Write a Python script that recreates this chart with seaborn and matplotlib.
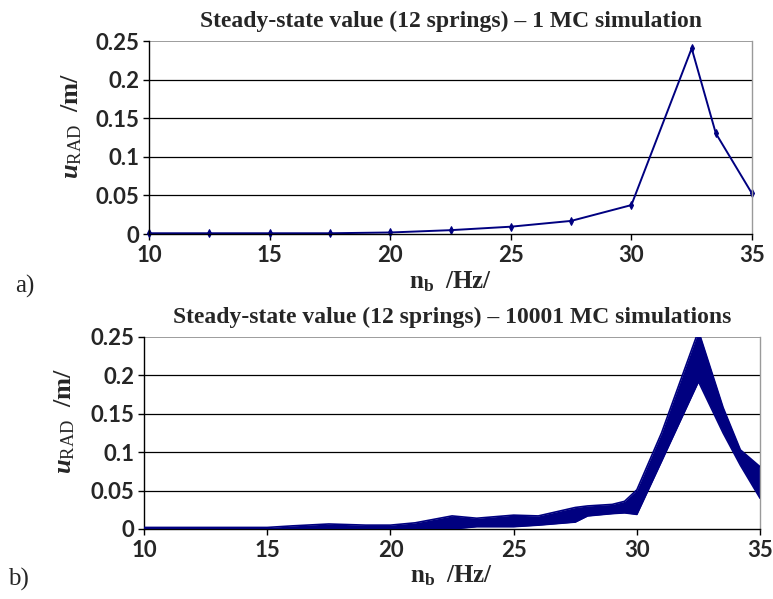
import numpy as np
import pandas as pd
import matplotlib
matplotlib.use("Agg")
import matplotlib.pyplot as plt
import seaborn as sns

# a) single Monte Carlo run
freq_single = [10, 12.5, 15, 17.5, 20, 22.5, 25, 27.5, 30, 32.5, 33.5, 35]
u_single = [0.001, 0.001, 0.001, 0.001, 0.002, 0.005, 0.0095, 0.017, 0.0375, 0.2405, 0.1305, 0.0525]

# b) envelope of 10001 Monte Carlo runs
freq_band = [10, 12.5, 15, 16, 17.5, 19, 20, 21, 22.5, 23.5, 25, 26, 27.5, 28,
             29, 29.5, 30, 31, 32.5, 33.5, 34.2, 35]
u_upper = [0.002, 0.002, 0.002, 0.004, 0.0065, 0.005, 0.005, 0.008, 0.017, 0.014, 0.018,
           0.017, 0.028, 0.030, 0.032, 0.036, 0.051, 0.125, 0.258, 0.158, 0.103, 0.081]
u_lower = [0.0, 0.0, 0.0, 0.0, 0.0, 0.0, 0.0, 0.0, 0.0, 0.003, 0.003,
           0.005, 0.009, 0.017, 0.020, 0.021, 0.019, 0.088, 0.192, 0.125, 0.083, 0.040]

x_ticks = [10, 15, 20, 25, 30, 35]
y_ticks = [0, 0.05, 0.1, 0.15, 0.2, 0.25]
y_ticklabels = ["0", "0.05", "0.1", "0.15", "0.2", "0.25"]

titles = ["Steady-state value (12 springs) \u2013 1 MC simulation",
          "Steady-state value (12 springs) \u2013 10001 MC simulations"]

sns.set_theme(style="white")
plt.rcParams["mathtext.fontset"] = "custom"
plt.rcParams["mathtext.rm"] = "Liberation Serif"
plt.rcParams["mathtext.bf"] = "Liberation Serif:bold"
plt.rcParams["mathtext.it"] = "Liberation Serif:italic"
plt.rcParams["mathtext.bfit"] = "Liberation Serif:italic:bold"

NAVY = "#000080"

fig = plt.figure(figsize=(7.73, 5.99), dpi=100)
ax_a = fig.add_axes([0.1928, 0.6093, 0.780, 0.3222])
ax_b = fig.add_axes([0.1863, 0.1169, 0.797, 0.3205])


def style_axes(ax, title):
    ax.set_xlim(10, 35)
    ax.set_ylim(0, 0.25)
    ax.set_xticks(x_ticks)
    ax.set_xticklabels([str(t) for t in x_ticks], fontfamily="Lato",
                       fontweight="bold", fontsize=16)
    ax.set_yticks(y_ticks)
    ax.set_yticklabels(y_ticklabels, fontfamily="Lato", fontweight="bold", fontsize=16)
    for yv in y_ticks[1:-1]:
        ax.axhline(yv, color="black", lw=0.9, zorder=0)
    ax.axhline(0.25, color="#8c8c8c", lw=1.2, zorder=0)
    ax.spines["left"].set_color("black")
    ax.spines["bottom"].set_color("black")
    ax.spines["right"].set_color("#9a9a9a")
    ax.spines["top"].set_visible(False)
    for s in ["left", "bottom", "right"]:
        ax.spines[s].set_linewidth(1.0)
    ax.tick_params(axis="both", direction="out", length=4, width=1,
                   color="black", bottom=True, left=True)
    ax.tick_params(axis="x", pad=4)
    ax.tick_params(axis="y", pad=3)
    ax.set_title(title, fontfamily="Liberation Serif", fontweight="bold",
                 fontsize=17, pad=10)
    ax.set_xlabel(r"$\mathbf{n}_{\mathbf{b}}\ \ \mathbf{/Hz/}$", fontsize=18, labelpad=2)
    ax.set_ylabel(r"$\mathbfit{u}_{\mathrm{RAD}}\ \ \mathbf{/m/}$", fontsize=19)
    ax.yaxis.set_label_coords(-0.108, 0.56)


# panel a
df_a = pd.DataFrame({"nb": freq_single, "u": u_single})
sns.lineplot(data=df_a, x="nb", y="u", ax=ax_a, color=NAVY, lw=1.4,
             marker="d", markersize=4, markeredgecolor=NAVY, clip_on=False)
style_axes(ax_a, titles[0])

# panel b
df_b = pd.DataFrame({"nb": freq_band, "upper": u_upper, "lower": u_lower})
ax_b.fill_between(df_b["nb"], df_b["lower"], df_b["upper"], color=NAVY, lw=0, zorder=2)
sns.lineplot(data=df_b, x="nb", y="upper", ax=ax_b, color=NAVY, lw=1.2, zorder=3)
sns.lineplot(data=df_b, x="nb", y="lower", ax=ax_b, color=NAVY, lw=1.2, zorder=3)
style_axes(ax_b, titles[1])

fig.text(0.032, 0.521, "a)", fontfamily="Liberation Serif", fontsize=18, va="center", ha="center")
fig.text(0.024, 0.033, "b)", fontfamily="Liberation Serif", fontsize=18, va="center", ha="center")

fig.savefig("out.png", dpi=100)
